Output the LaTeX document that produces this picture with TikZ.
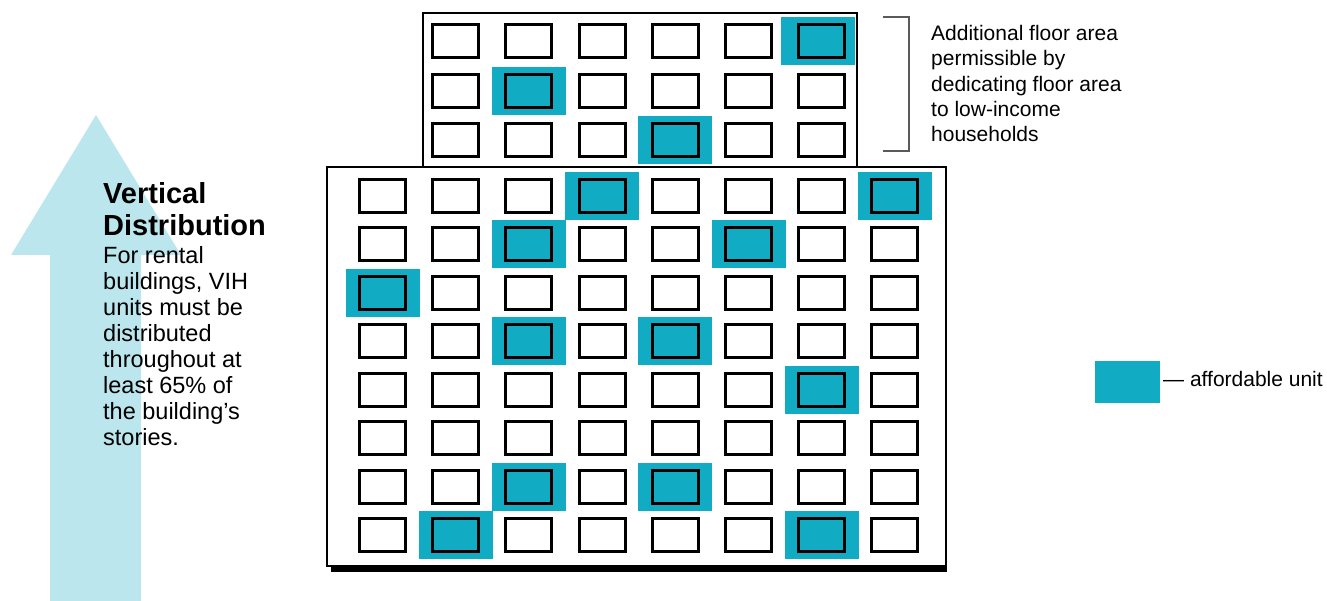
\documentclass[tikz,border=0pt]{standalone}
\usepackage{fontspec}
\setmainfont{Liberation Sans}
\usetikzlibrary{positioning}
\definecolor{unitteal}{RGB}{17,172,196}
\definecolor{arrowcyan}{RGB}{188,230,237}
\definecolor{bracketgray}{RGB}{90,90,90}
\tikzset{
  wallline/.style={
    draw=black,
    line width=2.4pt
  },
  windowbox/.style={
    draw=black,
    line width=3pt
  },
  unitpatch/.style={
    fill=unitteal
  },
  bracketline/.style={
    draw=bracketgray,
    line width=1.2pt
  },
  notetext/.style={
    inner sep=0pt,
    align=left,
    font=\fontsize{21}{25.3}\selectfont
  }
}

\begin{document}
\begin{tikzpicture}[x=1pt,y=-1pt]
  \useasboundingbox (0,0) rectangle (1327,601);

  % Upward arrow behind the vertical distribution note.
  \fill[arrowcyan] (50,601) -- (50,255) -- (11,255) -- (96,115)
    -- (181,255) -- (141,255) -- (141,601) -- cycle;

  % Building outline: base with drop shadow, then the bonus storeys.
  \fill[black] (331,565) rectangle (947,572);
  \draw[wallline,fill=white] (327,167) rectangle (946,566);
  \draw[wallline] (423,167) -- (423,13) -- (857,13) -- (857,167);

  % Affordable units in the base (column/row).
  \foreach \c/\r in {4/1,8/1,3/2,6/2,1/3,3/4,5/4,7/5,3/7,5/7,2/8,7/8}
    \fill[unitpatch] ({382.5+73.2*(\c-1)},{196+48.43*(\r-1)})
      ++(-37,-24) rectangle ++(74,48);

  % Affordable units in the bonus storeys (the corner one stays inside the wall).
  \foreach \c/\r/\dx in {7/1/-3.5,3/2/0,5/3/0}
    \fill[unitpatch] ({382.5+73.2*(\c-1)+\dx},{41.5+49.5*(\r-1)})
      ++(-37,-24) rectangle ++(74,48);

  % Windows of the base.
  \foreach \c in {1,...,8}
    \foreach \r in {1,...,8}
      \draw[windowbox] ({382.5+73.2*(\c-1)},{196+48.43*(\r-1)})
        ++(-23,-16.5) rectangle ++(46,33);

  % Windows of the bonus storeys.
  \foreach \c in {2,...,7}
    \foreach \r in {1,2,3}
      \draw[windowbox] ({382.5+73.2*(\c-1)},{41.5+49.5*(\r-1)})
        ++(-23,-16.5) rectangle ++(46,33);

  % Bracket and note for the additional floor area.
  \coordinate (brtop) at (883,17);
  \coordinate (brbot) at (883,151);
  \draw[bracketline] (brtop) -- ++(26,0) |- (brbot);
  \node[notetext,anchor=north west] (bonusnote) at (931,25)
    {Additional floor area\\permissible by\\dedicating floor area\\to low-income\\households};

  % Vertical distribution note.
  \node[inner sep=0pt,anchor=north west,align=left,
        font=\fontsize{29}{32}\selectfont\bfseries] (vdtitle) at (103,182)
    {Vertical\\Distribution};
  \node[inner sep=0pt,align=left,font=\fontsize{23.5}{26}\selectfont,
        below=11pt of vdtitle.south west,anchor=north west] (vdbody)
    {For rental\\buildings, VIH\\units must be\\distributed\\throughout at\\least 65\% of\\the building’s\\stories.};

  % Legend.
  \node[unitpatch,inner sep=0pt,minimum width=65,minimum height=42]
    (legendpatch) at (1127.5,382) {};
  \node[notetext,anchor=base west] (legendtext) at (1163,386)
    {— affordable unit};

\end{tikzpicture}
\end{document}
